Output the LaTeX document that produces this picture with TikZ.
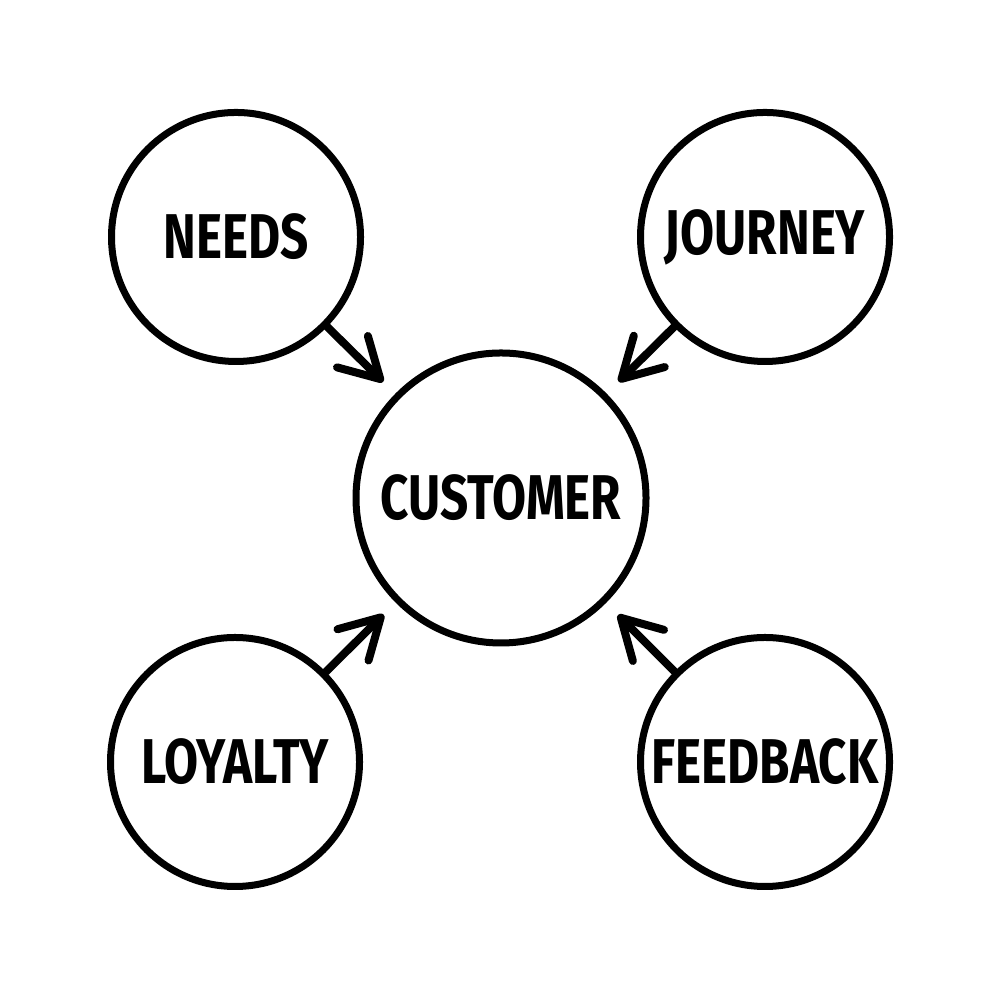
\documentclass[tikz,border=0pt]{standalone}
\usepackage{fontspec}
\setmainfont{Fira Sans}
\newfontfamily\labfont{Fira Sans}[FakeStretch=0.78]
\usetikzlibrary{arrows.meta}

\begin{document}
\begin{tikzpicture}[>={Straight Barb[length=3.9mm,width=4.4mm,round]},
    bub/.style={circle,draw,line width=0.7mm,minimum size=24.9mm,inner sep=0pt,
        font=\labfont\bfseries\fontsize{18}{18}\selectfont},
    arr/.style={->,line width=0.8mm,line cap=round,shorten >=1.7mm}]
    \useasboundingbox (0,0) rectangle (10,10);
    \node[bub,minimum size=29mm] (cust) at (5.01,5.02) {CUSTOMER};
    \node[bub] (needs) at (2.36,7.63) {NEEDS};
    \node[bub] (jour) at (7.65,7.63) {JOURNEY};
    \node[bub] (loy) at (2.35,2.38) {LOYALTY};
    \node[bub] (feed) at (7.65,2.38) {FEEDBACK};
    \foreach \n in {needs,jour,loy,feed}{
        \draw[arr] (\n) -- (cust);
    }
\end{tikzpicture}
\end{document}
